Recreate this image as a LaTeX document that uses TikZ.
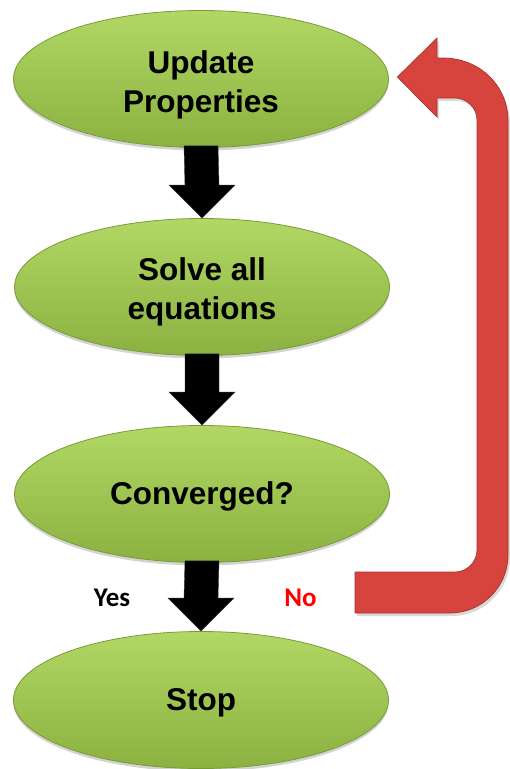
\documentclass[tikz,border=0pt]{standalone}
\usepackage{fontspec}
\setmainfont{Liberation Sans}
\newfontfamily\labelfont{Carlito}
\usetikzlibrary{shapes.geometric,shadows,calc}
\definecolor{gtop}{HTML}{B1D765}
\definecolor{gbot}{HTML}{8BB240}
\definecolor{gedge}{HTML}{7A9A38}
\definecolor{rfill}{HTML}{D7433D}
\definecolor{redge}{HTML}{A8332E}
\tikzset{
  gnode/.style={ellipse, minimum width=375pt, minimum height=137pt, inner sep=0pt,
    top color=gtop, bottom color=gbot, draw=gedge, line width=0.8pt,
    drop shadow={opacity=0.35, shadow xshift=0pt, shadow yshift=-3pt}},
  gtext/.style={align=center, inner sep=0pt, font=\bfseries\fontsize{31.5}{39}\selectfont},
  blk/.style={fill=black, draw=black!80, line width=0.4pt},
  ylabel/.style={font=\labelfont\bfseries\fontsize{27}{30}\selectfont, inner sep=0pt, anchor=base},
  redarrow/.style={fill=rfill, draw=redge, line width=0.7pt,
    drop shadow={opacity=0.3, shadow xshift=2pt, shadow yshift=-3pt}}
}
\newcommand\blockarrow[2]{%
  \fill[blk] ($(#1.south)+(-17,-2)$) -- ($(#2.north)+(-17,-33)$) -- ($(#2.north)+(-33,-33)$)
    -- (#2.north) -- ($(#2.north)+(33,-33)$) -- ($(#2.north)+(17,-33)$)
    -- ($(#1.south)+(17,-2)$) -- cycle;}
\begin{document}
\begin{tikzpicture}[x=1pt, y=-1pt]
\useasboundingbox (0,0) rectangle (510,769);
\node[gnode, label={[gtext, yshift=-5.5pt]center:Update\\Properties}] (u) at (201,79) {};
\node[gnode, label={[gtext, yshift=-5pt]center:Solve all\\equations}] (s) at (202,287) {};
\node[gnode, label={[gtext, yshift=-2.5pt]center:Converged?}] (c) at (202,494) {};
\node[gnode, label={[gtext, yshift=-3pt]center:Stop}] (t) at (201,700) {};
\blockarrow{u}{s}
\blockarrow{s}{c}
\blockarrow{c}{t}
\node[ylabel] (yes) at (112,606) {Yes};
\node[ylabel, text=red] (no) at (300.5,606) {No};
\coordinate (nostart) at (355,592.5);
\coordinate (tip) at ($(u.east)+(8.5,-2)$);
\path[redarrow] ($(nostart)+(0,-20.5)$) -- (455,572) .. controls (467,572) and (477,562) .. (477,550)
  -- (477,120) .. controls (477,108) and (467,98) .. (455,98) -- (437,98) -- (437,117)
  -- (tip) -- (437,38) -- (437,58) -- (443,58) .. controls (480,58) and (508,86) .. (508,121)
  -- (508,555) .. controls (508,587) and (482,613) .. (450,613) -- ($(nostart)+(0,20.5)$) -- cycle;
\end{tikzpicture}
\end{document}
